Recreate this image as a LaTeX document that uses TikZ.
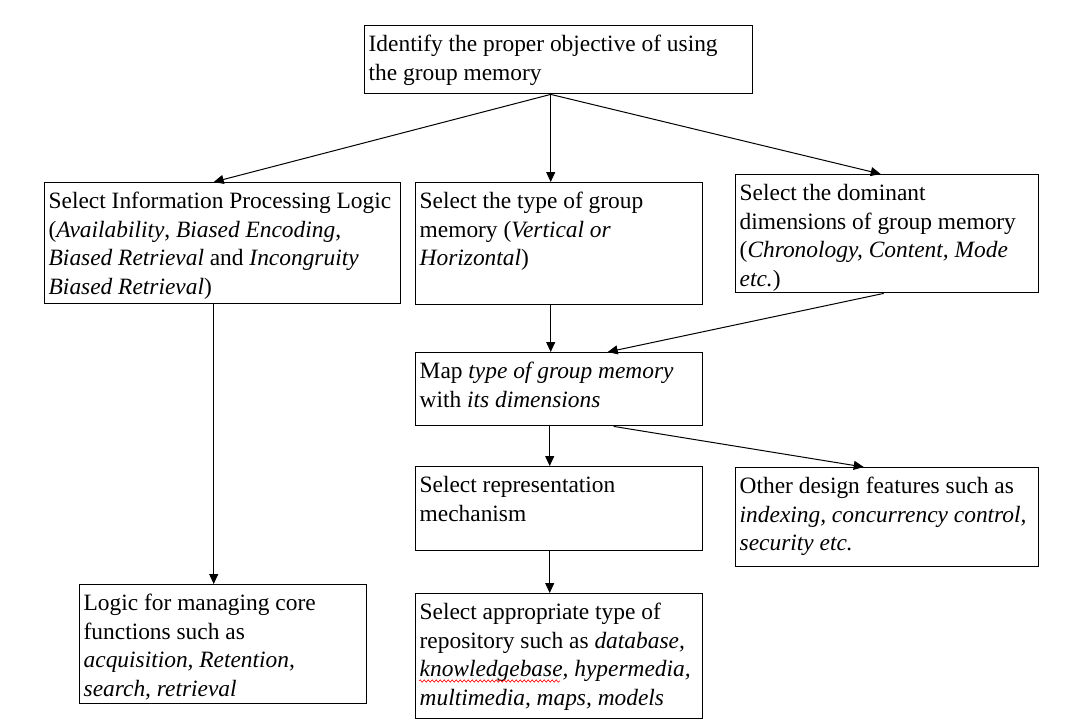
\documentclass[tikz,border=0pt]{standalone}
\usepackage{fontspec}
\setmainfont{Liberation Serif}
\usepackage{xcolor}
\usetikzlibrary{arrows.meta,decorations.pathmorphing}

% box text: full width, full height, text (top aligned)
\newcommand{\cell}[3]{\parbox[t][\dimexpr#2pt-12pt\relax][t]{\dimexpr#1pt-8pt\relax}{\raggedright\strut#3}}

\begin{document}
\begin{tikzpicture}[x=1pt,y=-1pt,
        box/.style={draw,line width=1.4pt,anchor=north west,inner xsep=4pt,inner ysep=6pt,font=\fontsize{23.4}{28.5}\selectfont},
        link/.style={line width=1pt,-{Triangle[length=10pt,width=9pt]}}]
        \useasboundingbox[fill=white] (0,0) rectangle (1068,728);

        \node[box] (goal) at (364,25) {\cell{388}{68}{Identify the proper objective of using\\the group memory}};

        % Second row
        \node[box] (ipl) at (44,182) {\cell{356}{121}{Select Information Processing Logic\\(\textit{Availability}, \textit{Biased Encoding},\\\textit{Biased Retrieval} and \textit{Incongruity}\\\textit{Biased Retrieval})}};
        \node[box] (type) at (415,182) {\cell{287}{122}{Select the type of group\\memory (\textit{Vertical or}\\\textit{Horizontal})}};
        \node[box] (dims) at (735,174) {\cell{303}{118}{Select the dominant\\dimensions of group memory\\(\textit{Chronology, Content, Mode}\\\textit{etc.})}};

        % Middle column
        \node[box] (map) at (415,352) {\cell{287}{73}{Map \textit{type of group memory}\\with \textit{its dimensions}}};
        \node[box] (repr) at (415,466) {\cell{287}{84}{Select representation\\mechanism}};
        \node[box] (other) at (735,467) {\cell{303}{99}{Other design features such as\\\textit{indexing, concurrency control,}\\\textit{security etc.}}};
        \node[box] (repo) at (415,593) {\cell{287}{125}{Select appropriate type of\\repository such as \textit{database,}\\\textit{knowledgebase, hypermedia,}\\\textit{multimedia, maps, models}}};
        % spelling mark under knowledgebase
        \draw[red,line width=0.6pt,decorate,decoration={snake,amplitude=1.2pt,segment length=4pt}]
            ([shift={(4,88)}]repo.north west) -- ++(141,0);

        \node[box] (core) at (79,584) {\cell{287}{119}{Logic for managing core\\functions such as\\\textit{acquisition, Retention,}\\\textit{search, retrieval}}};

        % Arrows from the objective
        \draw[link] ([xshift=-8]goal.south) -- ([xshift=-9]ipl.north);
        \draw[link] ([xshift=-8]goal.south) -- ([xshift=-8.5]type.north);
        \draw[link] ([xshift=-8]goal.south) -- ([xshift=-6.5]dims.north);

        \draw[link] ([xshift=-9]ipl.south) -- ([xshift=-9.5]core.north);
        \draw[link] ([xshift=-8.5]type.south) -- ([xshift=-8.5]map.north);
        \draw[link] ([xshift=-3.5]dims.south) -- ([xshift=48.5]map.north);
        \draw[link] ([xshift=-9.5]map.south) -- ([xshift=-9.5]repr.north);
        \draw[link] ([xshift=54.5]map.south) -- ([xshift=-23.5]other.north);
        \draw[link] ([xshift=-9.5]repr.south) -- ([xshift=-9.5]repo.north);
    \end{tikzpicture}
\end{document}
